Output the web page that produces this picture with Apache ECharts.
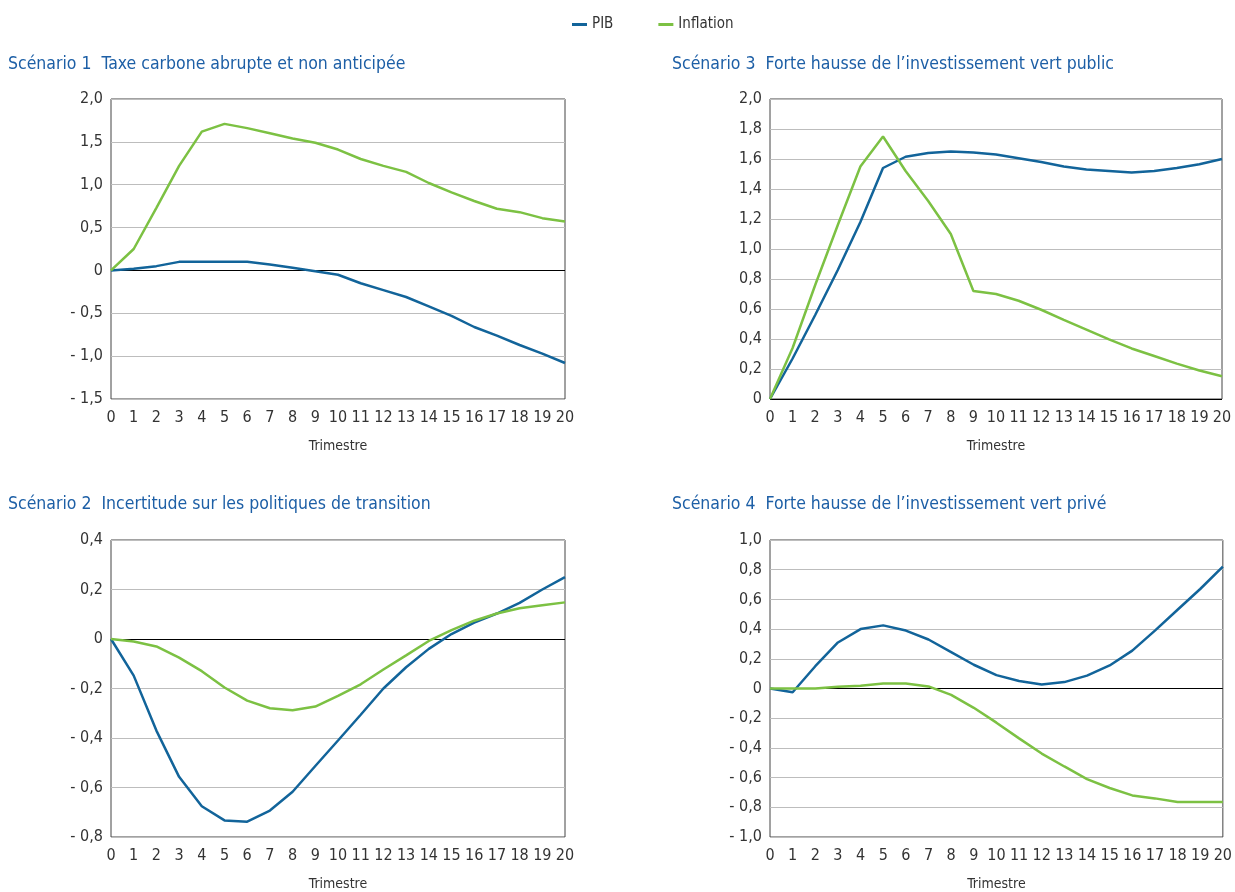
<!DOCTYPE html>
<html>
<head>
<meta charset="utf-8">
<title>Scénarios</title>
<script src="https://cdn.jsdelivr.net/npm/echarts@6/dist/echarts.min.js"></script>
<style>
    html, body { margin: 0; padding: 0; background: #fff; }
    #chart { width: 1235px; height: 892px; }
</style>
</head>
<body>
<div id="chart"></div>
<script>
// trimestres 0..20
var trimestres = ['0','1','2','3','4','5','6','7','8','9','10','11','12','13','14','15','16','17','18','19','20'];

// Scénario 1 taxe carbone
var pib1 = [0, 0.02, 0.05, 0.10, 0.10, 0.10, 0.10, 0.07, 0.03, -0.01, -0.05, -0.15, -0.23, -0.31, -0.42, -0.53, -0.66, -0.76, -0.87, -0.97, -1.08];
var infl1 = [0, 0.25, 0.73, 1.22, 1.62, 1.71, 1.66, 1.60, 1.54, 1.49, 1.41, 1.30, 1.22, 1.15, 1.02, 0.91, 0.81, 0.72, 0.68, 0.61, 0.57];

// Scénario 2 incertitude
var pib2 = [0, -0.148, -0.37, -0.557, -0.676, -0.733, -0.738, -0.693, -0.617, -0.513, -0.41, -0.306, -0.20, -0.114, -0.04, 0.02, 0.066, 0.103, 0.146, 0.20, 0.25];
var infl2 = [0, -0.01, -0.03, -0.075, -0.13, -0.196, -0.249, -0.28, -0.288, -0.273, -0.23, -0.183, -0.123, -0.066, -0.008, 0.036, 0.074, 0.103, 0.124, 0.136, 0.148];

// Scénario 3 investissement vert public
var pib3 = [0, 0.27, 0.56, 0.86, 1.18, 1.54, 1.615, 1.64, 1.65, 1.643, 1.63, 1.605, 1.58, 1.55, 1.53, 1.52, 1.51, 1.52, 1.54, 1.565, 1.60];
var infl3 = [0, 0.34, 0.76, 1.16, 1.55, 1.75, 1.52, 1.32, 1.10, 0.72, 0.70, 0.655, 0.595, 0.527, 0.463, 0.397, 0.337, 0.287, 0.236, 0.19, 0.152];

// Scénario 4 investissement vert privé
var pib4 = [0, -0.025, 0.15, 0.31, 0.40, 0.425, 0.39, 0.33, 0.245, 0.16, 0.09, 0.05, 0.027, 0.043, 0.087, 0.155, 0.255, 0.39, 0.53, 0.67, 0.82];
var infl4 = [0, 0, 0, 0.012, 0.019, 0.034, 0.034, 0.014, -0.043, -0.13, -0.23, -0.336, -0.438, -0.525, -0.61, -0.67, -0.72, -0.74, -0.765, -0.765, -0.765];

var titres = [
    'Scénario 1  Taxe carbone abrupte et non anticipée',
    'Scénario 2  Incertitude sur les politiques de transition',
    'Scénario 3  Forte hausse de l\u2019investissement vert public',
    'Scénario 4  Forte hausse de l\u2019investissement vert privé'
];

var bleu = '#12649a';
var vert = '#7cc143';
var police = "'Liberation Sans Narrow', 'DejaVu Sans Condensed', 'Roboto Condensed', sans-serif";

var myChart = echarts.init(document.getElementById('chart'));

// format "- 0,5"
function fmt(v) {
    if (Math.abs(v) < 1e-9) return '0';
    var s = Math.abs(v).toFixed(1).replace('.', ',');
    return v < 0 ? '- ' + s : s;
}

var grids = [
    {left: 111, top: 99, width: 454, height: 300},
    {left: 111, top: 540, width: 454, height: 301},
    {left: 770, top: 99, width: 452, height: 300},
    {left: 770, top: 540, width: 453, height: 301}
];
var yRanges = [
    {min: -1.5, max: 2, interval: 0.5},
    {min: -0.8, max: 0.4, interval: 0.2},
    {min: 0, max: 2, interval: 0.2},
    {min: -1, max: 1, interval: 0.2}
];
var titlePos = [
    {left: 3, top: 50},
    {left: 3, top: 490},
    {left: 667, top: 50},
    {left: 667, top: 490}
];
var pibs = [pib1, pib2, pib3, pib4];
var infls = [infl1, infl2, infl3, infl4];

var xAxes = [], yAxes = [], series = [], titles = [];
for (var i = 0; i < 4; i++) {
    titles.push({
        text: titres[i],
        left: titlePos[i].left,
        top: titlePos[i].top,
        textStyle: {fontFamily: police, fontSize: 17.5, fontWeight: 'normal', color: '#1d5fa6'}
    });
    xAxes.push({
        gridIndex: i,
        type: 'category',
        data: trimestres,
        boundaryGap: false,
        name: 'Trimestre',
        nameLocation: 'middle',
        nameGap: 40,
        nameTextStyle: {fontFamily: police, fontSize: 14, color: '#333'},
        axisLine: {show: false},
        axisTick: {show: false},
        axisLabel: {fontFamily: police, fontSize: 16, color: '#333', margin: 11, interval: 0},
        splitLine: {show: false}
    });
    yAxes.push({
        gridIndex: i,
        type: 'value',
        min: yRanges[i].min,
        max: yRanges[i].max,
        interval: yRanges[i].interval,
        axisLine: {show: false},
        axisTick: {show: false},
        axisLabel: {fontFamily: police, fontSize: 16, color: '#333', margin: 8, formatter: fmt},
        splitLine: {lineStyle: {color: '#bdbdbd', width: 1}}
    });
    series.push({
        name: 'PIB',
        type: 'line',
        xAxisIndex: i,
        yAxisIndex: i,
        data: pibs[i],
        symbol: 'none',
        lineStyle: {color: bleu, width: 2.5},
        itemStyle: {color: bleu},
        z: 3,
        markLine: {
            silent: true,
            symbol: 'none',
            label: {show: false},
            lineStyle: {color: '#000', width: 1, type: 'solid'},
            data: [{yAxis: 0}],
            z: 1
        }
    });
    series.push({
        name: 'Inflation',
        type: 'line',
        xAxisIndex: i,
        yAxisIndex: i,
        data: infls[i],
        symbol: 'none',
        lineStyle: {color: vert, width: 2.5},
        itemStyle: {color: vert},
        z: 3
    });
}

myChart.setOption({
    animation: false,
    title: titles,
    legend: {
        data: ['PIB', 'Inflation'],
        left: 567,
        top: 12,
        icon: 'rect',
        itemWidth: 15,
        itemHeight: 3,
        itemGap: 45,
        textStyle: {fontFamily: police, fontSize: 15, color: '#333'}
    },
    grid: grids.map(function (g) {
        return {left: g.left, top: g.top, width: g.width, height: g.height,
            show: true, borderColor: '#444', borderWidth: 1, containLabel: false};
    }),
    xAxis: xAxes,
    yAxis: yAxes,
    series: series
});
</script>
</body>
</html>
